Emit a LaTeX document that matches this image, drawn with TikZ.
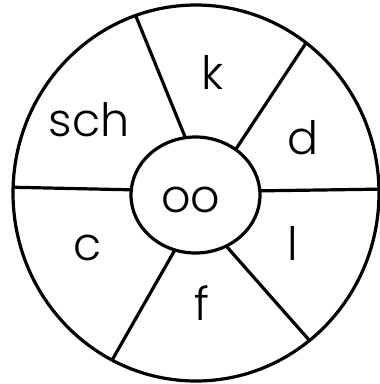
\documentclass[tikz,border=0pt]{standalone}
\usepackage{fontspec}
\setmainfont{Poppins}[UprightFont=* Light]
\usetikzlibrary{shapes.geometric}
\begin{document}
\begin{tikzpicture}[x=1pt,y=-1pt,
  ring/.style={line width=3.2pt},
  lbl/.style={font=\fontsize{46}{46}\selectfont, inner sep=0pt}]
\useasboundingbox (0,0) rectangle (380,384);
\begin{scope}
\clip (196,193) ellipse [x radius=183, y radius=188];
\draw[ring] (133,9) -- (190,149);
\draw[ring] (310,37) -- (230,158);
\draw[ring] (250,191) -- (390,189);
\draw[ring] (220,239) -- (317,349);
\draw[ring] (180,241) -- (107,369);
\draw[ring] (2,187) -- (140,190);
\end{scope}
\node[ring, draw, fill=white, ellipse, minimum width=129, minimum height=116, inner sep=0pt] (hub) at (195.5,195) {};
\draw[ring] (196,193) ellipse [x radius=183, y radius=188];
\node[lbl] (oo) at (191,200) {oo};
\node[lbl] (k) at (213,72) {k};
\node[lbl] (sch) at (89,120) {sch};
\node[lbl] (d) at (303,138) {d};
\node[lbl] (l) at (293,243) {l};
\node[lbl] (f) at (202,303) {f};
\node[lbl] (c) at (88,248) {c};
\end{tikzpicture}
\end{document}
